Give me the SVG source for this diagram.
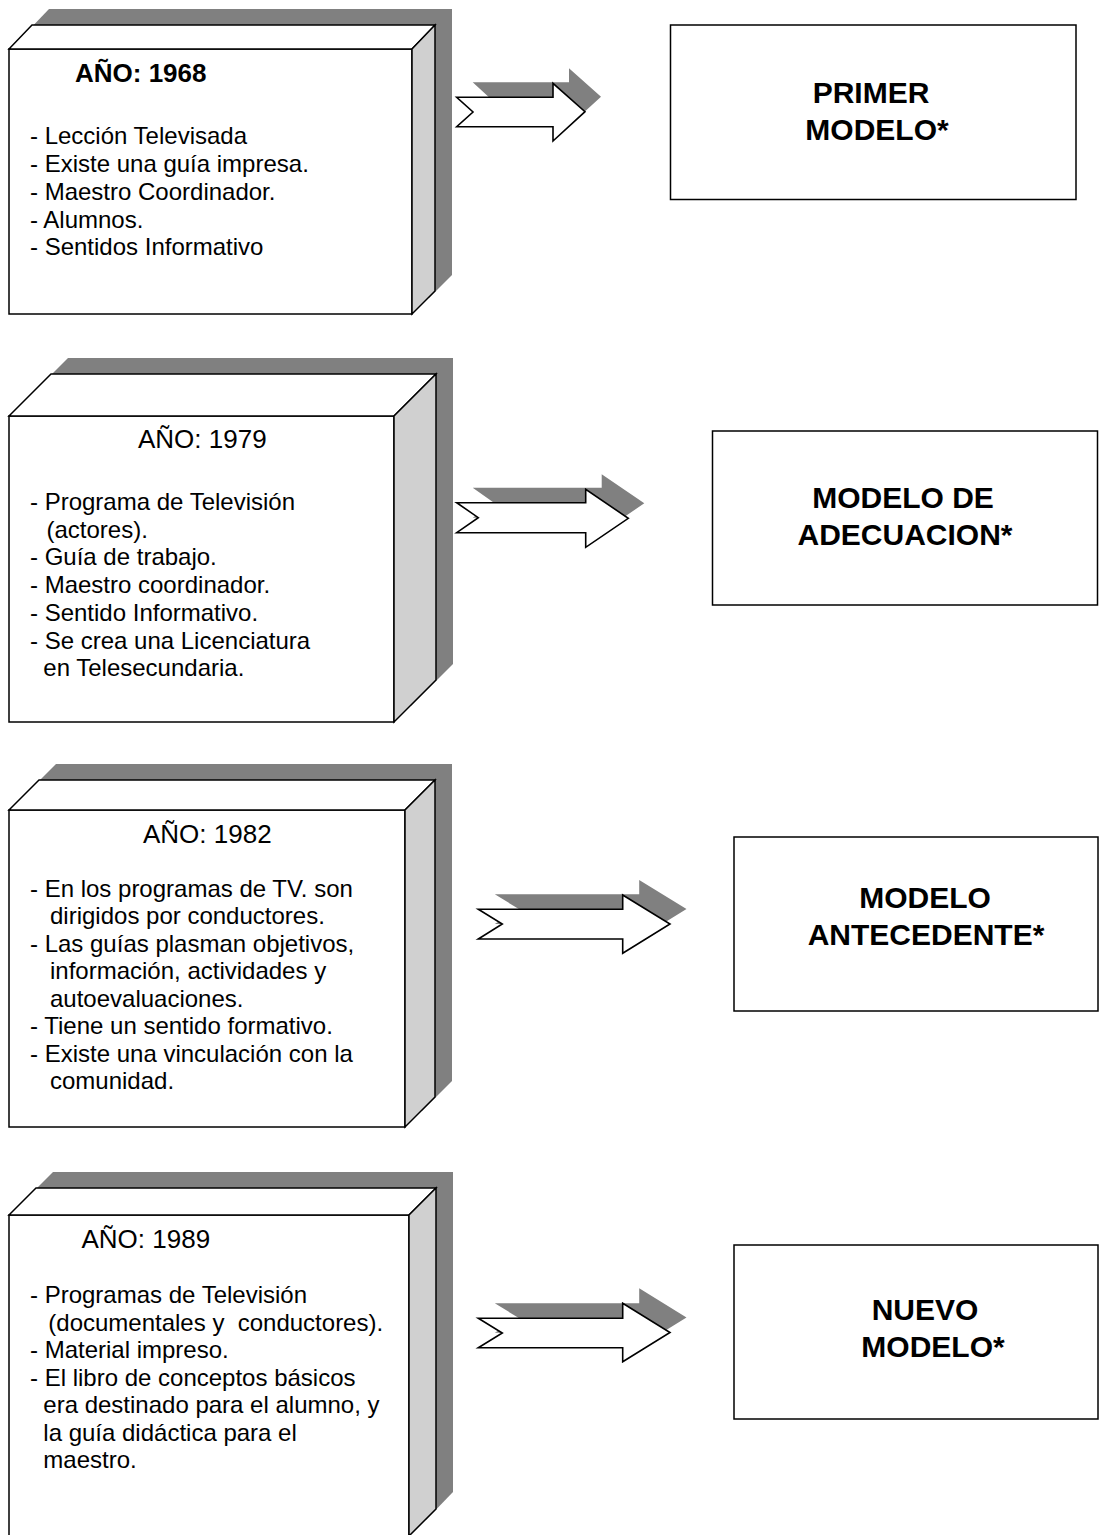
<svg xmlns="http://www.w3.org/2000/svg" width="1106" height="1535" viewBox="0 0 1106 1535">
  <style>
    .shadow { fill: #808080; stroke: none; }
    .face { fill: #ffffff; stroke: #000000; stroke-width: 1.5; stroke-linejoin: miter; }
    .side { fill: #d0d0d0; stroke: #000000; stroke-width: 1.5; }
    .arrow { fill: #ffffff; stroke: #000000; stroke-width: 1.6; stroke-linejoin: miter; }
    .model { fill: #ffffff; stroke: #000000; stroke-width: 1.5; }
    .body { font-family: "Liberation Sans", Arial, sans-serif; font-size: 24px; fill: #000000; }
    .year { font-family: "Liberation Sans", Arial, sans-serif; font-size: 26px; fill: #000000; }
    .title { font-family: "Liberation Sans", Arial, sans-serif; font-size: 30px; font-weight: bold; fill: #000000; text-anchor: middle; }
  </style>

  <rect x="0" y="0" width="1106" height="1535" fill="#ffffff"/>

  <!-- 1968 block -->
  <g id="year-1968">
    <polygon class="shadow" points="26,298 26,33 49,9 452,9 452,275 429,298"/>
    <rect class="face" x="9" y="49" width="403" height="265"/>
    <polygon class="face" points="9,49 32,25 435,25 412,49"/>
    <polygon class="side" points="412,49 435,25 435,291 412,314"/>
    <text class="year" x="75" y="82" font-weight="bold">AÑO: 1968</text>
    <text class="body" x="30" y="144">- Lección Televisada</text>
    <text class="body" x="30" y="172">- Existe una guía impresa.</text>
    <text class="body" x="30" y="200">- Maestro Coordinador.</text>
    <text class="body" x="30" y="227.5">- Alumnos.</text>
    <text class="body" x="30" y="255">- Sentidos Informativo</text>
  </g>

  <!-- 1979 block -->
  <g id="year-1979">
    <polygon class="shadow" points="26,706 26,400 68,358 453,358 453,664 411,706"/>
    <rect class="face" x="9" y="416" width="385" height="306"/>
    <polygon class="face" points="9,416 51,374 436,374 394,416"/>
    <polygon class="side" points="394,416 436,374 436,680 394,722"/>
    <text class="year" x="138" y="448">AÑO: 1979</text>
    <text class="body" x="30" y="510">- Programa de Televisión</text>
    <text class="body" x="46.5" y="537.7">(actores).</text>
    <text class="body" x="30" y="565.4">- Guía de trabajo.</text>
    <text class="body" x="30" y="593.1">- Maestro coordinador.</text>
    <text class="body" x="30" y="620.8">- Sentido Informativo.</text>
    <text class="body" x="30" y="648.5">- Se crea una Licenciatura</text>
    <text class="body" x="43.3" y="676.2">en Telesecundaria.</text>
  </g>

  <!-- 1982 block -->
  <g id="year-1982">
    <polygon class="shadow" points="26,1111 26,794 56,764 452,764 452,1081 422,1111"/>
    <rect class="face" x="9" y="810" width="396" height="317"/>
    <polygon class="face" points="9,810 39,780 435,780 405,810"/>
    <polygon class="side" points="405,810 435,780 435,1097 405,1127"/>
    <text class="year" x="143" y="843">AÑO: 1982</text>
    <text class="body" x="30" y="896.7">- En los programas de TV. son</text>
    <text class="body" x="50" y="924.2">dirigidos por conductores.</text>
    <text class="body" x="30" y="951.7">- Las guías plasman objetivos,</text>
    <text class="body" x="50" y="979.2">información, actividades y</text>
    <text class="body" x="50" y="1006.7">autoevaluaciones.</text>
    <text class="body" x="30" y="1034.2">- Tiene un sentido formativo.</text>
    <text class="body" x="30" y="1061.7">- Existe una vinculación con la</text>
    <text class="body" x="50" y="1089.2">comunidad.</text>
  </g>

  <!-- 1989 block -->
  <g id="year-1989">
    <polygon class="shadow" points="26,1520 26,1199 53,1172 453,1172 453,1492 426,1520"/>
    <rect class="face" x="9" y="1215" width="400" height="321"/>
    <polygon class="face" points="9,1215 36,1188 436,1188 409,1215"/>
    <polygon class="side" points="409,1215 436,1188 436,1509 409,1536"/>
    <text class="year" x="81.5" y="1248">AÑO: 1989</text>
    <text class="body" x="30" y="1303.3">- Programas de Televisión</text>
    <text class="body" x="48.3" y="1330.8" xml:space="preserve">(documentales y  conductores).</text>
    <text class="body" x="30" y="1358.3">- Material impreso.</text>
    <text class="body" x="30" y="1385.8">- El libro de conceptos básicos</text>
    <text class="body" x="43.3" y="1413.3">era destinado para el alumno, y</text>
    <text class="body" x="43.3" y="1440.8">la guía didáctica para el</text>
    <text class="body" x="43.3" y="1468.3">maestro.</text>
  </g>

  <!-- Model boxes -->
  <g id="model-primer">
    <rect class="model" x="670.5" y="25" width="405.5" height="174.5"/>
    <text class="title" x="871" y="103">PRIMER</text>
    <text class="title" x="877" y="140">MODELO*</text>
  </g>
  <g id="model-adecuacion">
    <rect class="model" x="712.5" y="431" width="385" height="174"/>
    <text class="title" x="903" y="508">MODELO DE</text>
    <text class="title" x="905" y="545">ADECUACION*</text>
  </g>
  <g id="model-antecedente">
    <rect class="model" x="734" y="837" width="364" height="174"/>
    <text class="title" x="925" y="908">MODELO</text>
    <text class="title" x="926" y="945">ANTECEDENTE*</text>
  </g>
  <g id="model-nuevo">
    <rect class="model" x="734" y="1245" width="364" height="174"/>
    <text class="title" x="925" y="1320">NUEVO</text>
    <text class="title" x="933" y="1357">MODELO*</text>
  </g>

  <!-- Block arrows: grey drop shape behind a white outlined arrow -->
  <g id="connectors">
    <g id="arrow-1968">
      <polygon class="shadow" points="472.7,82.3 569,82.3 569,68.3 601,96.7 569,126 569,111.7 472.7,111.7 489,97.3"/>
      <polygon class="arrow" points="456.7,97.3 553,97.3 553,83.3 585,111.7 553,141 553,126.7 456.7,126.7 473,112"/>
    </g>
    <g id="arrow-1979">
      <polygon class="shadow" points="472.7,487.7 601.7,487.7 601.7,474.3 644.3,503.3 601.7,532.3 601.7,517.7 472.7,517.7 494.3,503"/>
      <polygon class="arrow" points="456.7,502.7 585.7,502.7 585.7,489.3 628.3,518.3 585.7,547.3 585.7,532.7 456.7,532.7 478.3,517.7"/>
    </g>
    <g id="arrow-1982">
      <polygon class="shadow" points="494.8,894.3 639.2,894.3 639.2,880 686.5,909 639.2,938.3 639.2,924 494.8,924 518.8,909"/>
      <polygon class="arrow" points="478.3,909.3 622.7,909.3 622.7,895 670,924 622.7,953.3 622.7,939 478.3,939 502.3,924"/>
    </g>
    <g id="arrow-1989">
      <polygon class="shadow" points="494.8,1303.3 639.2,1303.3 639.2,1288.3 686.5,1317.5 639.2,1346.7 639.2,1332.7 494.8,1332.7 518.8,1318"/>
      <polygon class="arrow" points="478.3,1318.3 622.7,1318.3 622.7,1303.3 670,1332.5 622.7,1361.7 622.7,1347.7 478.3,1347.7 502.3,1333"/>
    </g>
  </g>
</svg>
